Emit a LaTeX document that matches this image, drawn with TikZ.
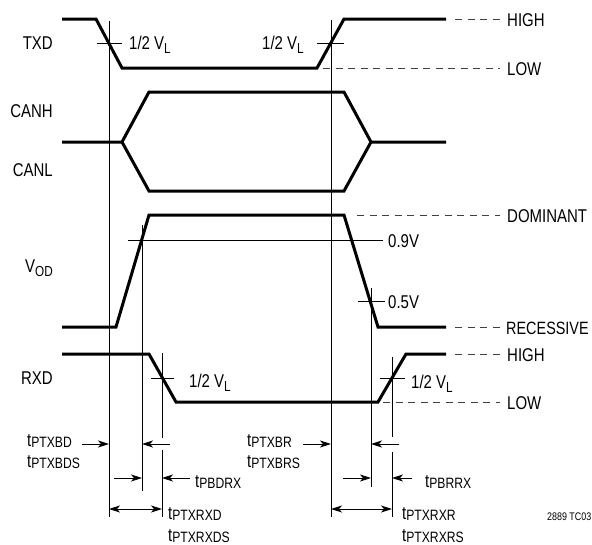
\documentclass[tikz,border=0pt]{standalone}
\usepackage{fontspec}
\setmainfont[FakeStretch=0.81]{Liberation Sans}
\usetikzlibrary{arrows.meta}

\newcommand{\vsub}[2]{#1\raisebox{-4pt}{\fontsize{14.5}{15}\selectfont #2}}
\newcommand{\tsub}[1]{t\raisebox{-1pt}{\fontsize{15}{16}\selectfont #1}}

\begin{document}
\begin{tikzpicture}[x=1pt,y=-1pt,>={Stealth[length=11pt,width=7pt,inset=3pt]},
	sig/.style={line width=3pt},
	guide/.style={line width=0.8pt},
	lvl/.style={line width=0.8pt,dash pattern=on 7pt off 5.5pt,black!75},
	lbl/.style={inner sep=0pt,anchor=base west,font=\fontsize{18.5}{20}\selectfont},
	rlbl/.style={lbl,anchor=base east},
	note/.style={inner sep=0pt,anchor=base west,font=\fontsize{11}{12}\selectfont}]
			\useasboundingbox (0,0) rectangle (592,544);
			% signals
			\draw[sig] (62,19) -- (96,19) -- (122,68) -- (317,68) -- (344,19) -- (446,19);
			\draw[sig] (62,142) -- (122,142) -- (149,92) -- (344,92) -- (371,142) -- (446,142);
			\draw[sig] (122,142) -- (149,191) -- (344,191) -- (371,142);
			\draw[sig] (62,327) -- (116,327) -- (149,215) -- (344,215) -- (378,327) -- (446,327);
			\draw[sig] (62,354) -- (149,354) -- (176,402) -- (378,402) -- (406,354) -- (446,354);
			% levels
			\draw[lvl] (455,19) -- (500,19);
			\draw[lvl] (323,68) -- (500,68);
			\draw[lvl] (357,215) -- (500,215);
			\draw[lvl] (455,327) -- (500,327);
			\draw[lvl] (455,354) -- (500,354);
			\draw[lvl] (383,402) -- (500,402);
			% ticks
			\draw[guide] (97,43) -- (122,43);
			\draw[guide] (317,43) -- (344,43);
			\draw[guide] (128,240) -- (383,240);
			\draw[guide] (358,301) -- (385,301);
			\draw[guide] (151,378) -- (174,378);
			\draw[guide] (380,378) -- (405,378);
			% time marks
			\coordinate (vA) at (109,21);
			\coordinate (vAb) at (109,517);
			\coordinate (vB) at (331,20);
			\coordinate (vBb) at (331,517);
			\coordinate (vC) at (142,225);
			\coordinate (vCb) at (142,491);
			\coordinate (vD) at (371,288);
			\coordinate (vDb) at (371,487);
			\coordinate (vE) at (162,353);
			\coordinate (vEb) at (162,517);
			\coordinate (vF) at (392,357);
			\coordinate (vFb) at (392,517);
			\draw[guide] (vA) -- (vAb);
			\draw[guide] (vB) -- (vBb);
			\draw[guide] (vC) -- (vCb);
			\draw[guide] (vD) -- (vDb);
			\draw[guide] (vE) -- (162,438) (162,450) -- (vEb);
			\draw[guide] (vF) -- (392,437) (392,452) -- (vFb);
			% delays
			\coordinate (a1) at (82,444);
			\coordinate (a2) at (170,444);
			\coordinate (a3) at (303,444);
			\coordinate (a4) at (399,444);
			\coordinate (b1) at (114,478);
			\coordinate (b2) at (190,478);
			\coordinate (b3) at (343,478);
			\coordinate (b4) at (412,478);
			\coordinate (c1) at (109,509);
			\coordinate (c2) at (331,509);
			\draw[guide,->] (a1) -- (a1 -| vA);
			\draw[guide,->] (a2) -- (a2 -| vC);
			\draw[guide,->] (a3) -- (a3 -| vB);
			\draw[guide,->] (a4) -- (a4 -| vD);
			\draw[guide,->] (b1) -- (b1 -| vC);
			\draw[guide,->] (b2) -- (b2 -| vE);
			\draw[guide,->] (b3) -- (b3 -| vD);
			\draw[guide,->] (b4) -- (b4 -| vF);
			\draw[guide,<->] (c1) -- (c1 -| vE);
			\draw[guide,<->] (c2) -- (c2 -| vF);
			% names
			\node[rlbl] (txd) at (53,49) {TXD};
			\node[rlbl] (canh) at (53,117) {CANH};
			\node[rlbl] (canl) at (53,176) {CANL};
			\node[rlbl] (vod) at (53,272) {\vsub{V}{OD}};
			\node[rlbl] (rxd) at (53,384) {RXD};
			\node[lbl] (high1) at (507,26) {HIGH};
			\node[lbl] (low1) at (507,75) {LOW};
			\node[lbl] (dom) at (507,222) {DOMINANT};
			\node[lbl,font=\fontsize{17.8}{20}\selectfont] (rec) at (506,334) {RECESSIVE};
			\node[lbl] (high2) at (507,361) {HIGH};
			\node[lbl] (low2) at (507,409) {LOW};
			\node[lbl] (v09) at (388,247) {0.9V};
			\node[lbl] (v05) at (388,308) {0.5V};
			\node[lbl] (halfA) at (129,49) {1/2 \vsub{V}{L}};
			\node[lbl] (halfB) at (262,49) {1/2 \vsub{V}{L}};
			\node[lbl] (halfC) at (189,387) {1/2 \vsub{V}{L}};
			\node[lbl] (halfD) at (411,388) {1/2 \vsub{V}{L}};
			\node[lbl] (tbd) at (27,446) {\tsub{PTXBD}};
			\node[lbl] (tbds) at (27,467) {\tsub{PTXBDS}};
			\node[lbl] (tbdrx) at (195,487) {\tsub{PBDRX}};
			\node[lbl] (trxd) at (168,519) {\tsub{PTXRXD}};
			\node[lbl] (trxds) at (168,541) {\tsub{PTXRXDS}};
			\node[lbl] (tbr) at (247,446) {\tsub{PTXBR}};
			\node[lbl] (tbrs) at (247,467) {\tsub{PTXBRS}};
			\node[lbl] (tbrrx) at (425,487) {\tsub{PBRRX}};
			\node[lbl] (trxr) at (402,519) {\tsub{PTXRXR}};
			\node[lbl] (trxrs) at (402,541) {\tsub{PTXRXRS}};
			\node[note] (fig) at (547,520) {2889 TC03};
		\end{tikzpicture}
\end{document}
